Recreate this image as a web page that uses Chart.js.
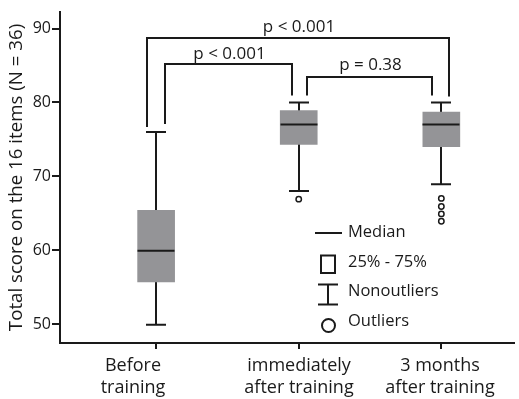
<!DOCTYPE html>
<html>
<head>
<meta charset="utf-8">
<script src="https://cdn.jsdelivr.net/npm/chart.js@4/dist/chart.umd.min.js"></script>
<style>
  html, body { margin: 0; padding: 0; background: #ffffff; }
  #wrap { width: 519px; height: 399px; position: relative; }
</style>
</head>
<body>
<div id="wrap"><canvas id="c" width="519" height="399"></canvas></div>
<script>
// ---- data ----
const CATEGORIES = [['Before', 'training'], ['immediately', 'after training'], ['3 months', 'after training']];
const CAT_POS = [1, 2, 3];
const WHISKER_LOW = [49.9, 68.0, 68.9];
const Q1 = [55.7, 74.3, 74.0];
const MEDIAN = [59.9, 77.0, 77.0];
const Q3 = [65.4, 78.9, 78.7];
const WHISKER_HIGH = [76.0, 80.0, 80.0];
const OUTLIERS = [[], [66.9], [67.0, 65.9, 64.9, 63.9]];
const Y_TICKS = [50, 60, 70, 80, 90];
const Y_TITLE = 'Total score on the 16 items (N = 36)';
const P_LABELS = ['p < 0.001', 'p < 0.001', 'p = 0.38'];
const P_FROM = [0, 0, 1];
const P_TO = [2, 1, 2];
const LEGEND_LABELS = ['Median', '25% - 75%', 'Nonoutliers', 'Outliers'];

// ---- style ----
const FONT = "'Open Sans', 'DejaVu Sans', sans-serif";
const INK = '#1a1a1a';
const BOX_FILL = '#949497';
const BOX_W = 37;
const CAP_W = 20;

const outlierPoints = [];
OUTLIERS.forEach((arr, i) => arr.forEach(v => outlierPoints.push({ x: CAT_POS[i], y: v })));

const boxPlugin = {
  id: 'boxparts',
  beforeDatasetsDraw(chart) {
    const ctx = chart.ctx, xs = chart.scales.x, ys = chart.scales.y;
    ctx.save();
    ctx.strokeStyle = INK;
    ctx.lineWidth = 2;
    CAT_POS.forEach((p, i) => {
      const x = Math.round(xs.getPixelForValue(p));
      const yl = ys.getPixelForValue(WHISKER_LOW[i]);
      const yh = ys.getPixelForValue(WHISKER_HIGH[i]);
      ctx.beginPath();
      ctx.moveTo(x, yl); ctx.lineTo(x, yh);
      ctx.moveTo(x - CAP_W / 2, yl); ctx.lineTo(x + CAP_W / 2, yl);
      ctx.moveTo(x - CAP_W / 2, yh); ctx.lineTo(x + CAP_W / 2, yh);
      ctx.stroke();
    });
    ctx.restore();
  },
  afterDatasetsDraw(chart) {
    const ctx = chart.ctx, xs = chart.scales.x, ys = chart.scales.y;
    const area = chart.chartArea;
    ctx.save();
    ctx.strokeStyle = INK;
    ctx.fillStyle = INK;
    ctx.lineWidth = 2;
    // medians
    CAT_POS.forEach((p, i) => {
      const x = Math.round(xs.getPixelForValue(p));
      const ym = ys.getPixelForValue(MEDIAN[i]);
      ctx.beginPath();
      ctx.moveTo(x - BOX_W / 2, ym); ctx.lineTo(x + BOX_W / 2, ym);
      ctx.stroke();
    });
    // significance brackets
    const cx = CAT_POS.map(p => Math.round(xs.getPixelForValue(p)));
    const top = CAT_POS.map((p, i) => ys.getPixelForValue(WHISKER_HIGH[i]));
    const levels = [area.top + 26, area.top + 52, area.top + 65];
    const xoffL = [-9, 9, 8];
    const xoffR = [8, -7, -9];
    const gapL = [5, 8, 7];
    const gapR = [6, 7, 7];
    const textGap = [6, 5, 7];
    ctx.font = '17px ' + FONT;
    ctx.textAlign = 'center';
    ctx.textBaseline = 'alphabetic';
    for (let k = 0; k < P_LABELS.length; k++) {
      const xl = cx[P_FROM[k]] + xoffL[k];
      const xr = cx[P_TO[k]] + xoffR[k];
      const yl = top[P_FROM[k]] - gapL[k];
      const yr = top[P_TO[k]] - gapR[k];
      const y = levels[k];
      ctx.beginPath();
      ctx.moveTo(xl, yl); ctx.lineTo(xl, y); ctx.lineTo(xr, y); ctx.lineTo(xr, yr);
      ctx.stroke();
      ctx.fillText(P_LABELS[k], (xl + xr) / 2 + 1, y - textGap[k]);
    }
    // category labels
    ctx.font = '18px ' + FONT;
    ctx.textBaseline = 'middle';
    const labelShift = [-23, 0, -1];
    CATEGORIES.forEach((lines, i) => {
      lines.forEach((t, j) => {
        ctx.fillText(t, cx[i] + labelShift[i], area.bottom + 23 + j * 22);
      });
    });
    // legend
    const lx = area.left + 255;
    const ly = area.top;
    ctx.font = '16.5px ' + FONT;
    ctx.textAlign = 'left';
    ctx.lineWidth = 2;
    ctx.beginPath(); ctx.moveTo(lx, ly + 221); ctx.lineTo(lx + 27, ly + 221); ctx.stroke();
    ctx.strokeRect(lx + 6, ly + 243.5, 14, 17.5);
    ctx.beginPath();
    ctx.moveTo(lx + 3, ly + 272.5); ctx.lineTo(lx + 23, ly + 272.5);
    ctx.moveTo(lx + 13, ly + 272.5); ctx.lineTo(lx + 13, ly + 292.5);
    ctx.moveTo(lx + 3, ly + 292.5); ctx.lineTo(lx + 23, ly + 292.5);
    ctx.stroke();
    ctx.beginPath(); ctx.arc(lx + 13.5, ly + 313.5, 6.5, 0, Math.PI * 2); ctx.stroke();
    const ty = [220, 250, 279, 309];
    LEGEND_LABELS.forEach((t, i) => ctx.fillText(t, lx + 33, ly + ty[i]));
    ctx.restore();
  }
};

new Chart(document.getElementById('c'), {
  type: 'scatter',
  data: {
    datasets: [
      {
        type: 'bar',
        data: CAT_POS.map((p, i) => ({ x: p, y: [Q1[i], Q3[i]] })),
        backgroundColor: BOX_FILL,
        borderWidth: 0,
        barThickness: BOX_W,
        order: 2
      },
      {
        type: 'scatter',
        data: outlierPoints,
        pointStyle: 'circle',
        pointRadius: 2.7,
        pointBackgroundColor: '#ffffff',
        pointBorderColor: INK,
        pointBorderWidth: 1.5,
        order: 1
      }
    ]
  },
  options: {
    responsive: false,
    animation: false,
    events: [],
    layout: { padding: { top: 12, right: 0, bottom: 0, left: 0 } },
    plugins: { legend: { display: false }, tooltip: { enabled: false }, title: { display: false } },
    scales: {
      x: {
        type: 'linear',
        min: 0.326,
        max: 3.506,
        offset: false,
        afterBuildTicks: s => { s.ticks = CAT_POS.map(v => ({ value: v })); },
        afterFit: s => { s.height = 56; },
        ticks: { autoSkip: false, callback: () => '', maxRotation: 0 },
        grid: { drawOnChartArea: false, drawTicks: true, tickLength: 6, color: INK, lineWidth: 2, offset: false },
        border: { display: true, color: INK, width: 2 }
      },
      y: {
        type: 'linear',
        min: 47.42,
        max: 92.24,
        afterBuildTicks: s => { s.ticks = Y_TICKS.map(v => ({ value: v })); },
        afterFit: s => { s.width = 60; },
        ticks: { color: INK, font: { family: FONT, size: 16 }, padding: 1 },
        grid: { drawOnChartArea: false, drawTicks: true, tickLength: 8, color: INK, lineWidth: 2 },
        border: { display: true, color: INK, width: 2 },
        title: { display: true, text: Y_TITLE, color: INK, font: { family: FONT, size: 18.7 }, padding: { top: 5, bottom: 0 } }
      }
    }
  },
  plugins: [boxPlugin]
});
</script>
</body>
</html>
